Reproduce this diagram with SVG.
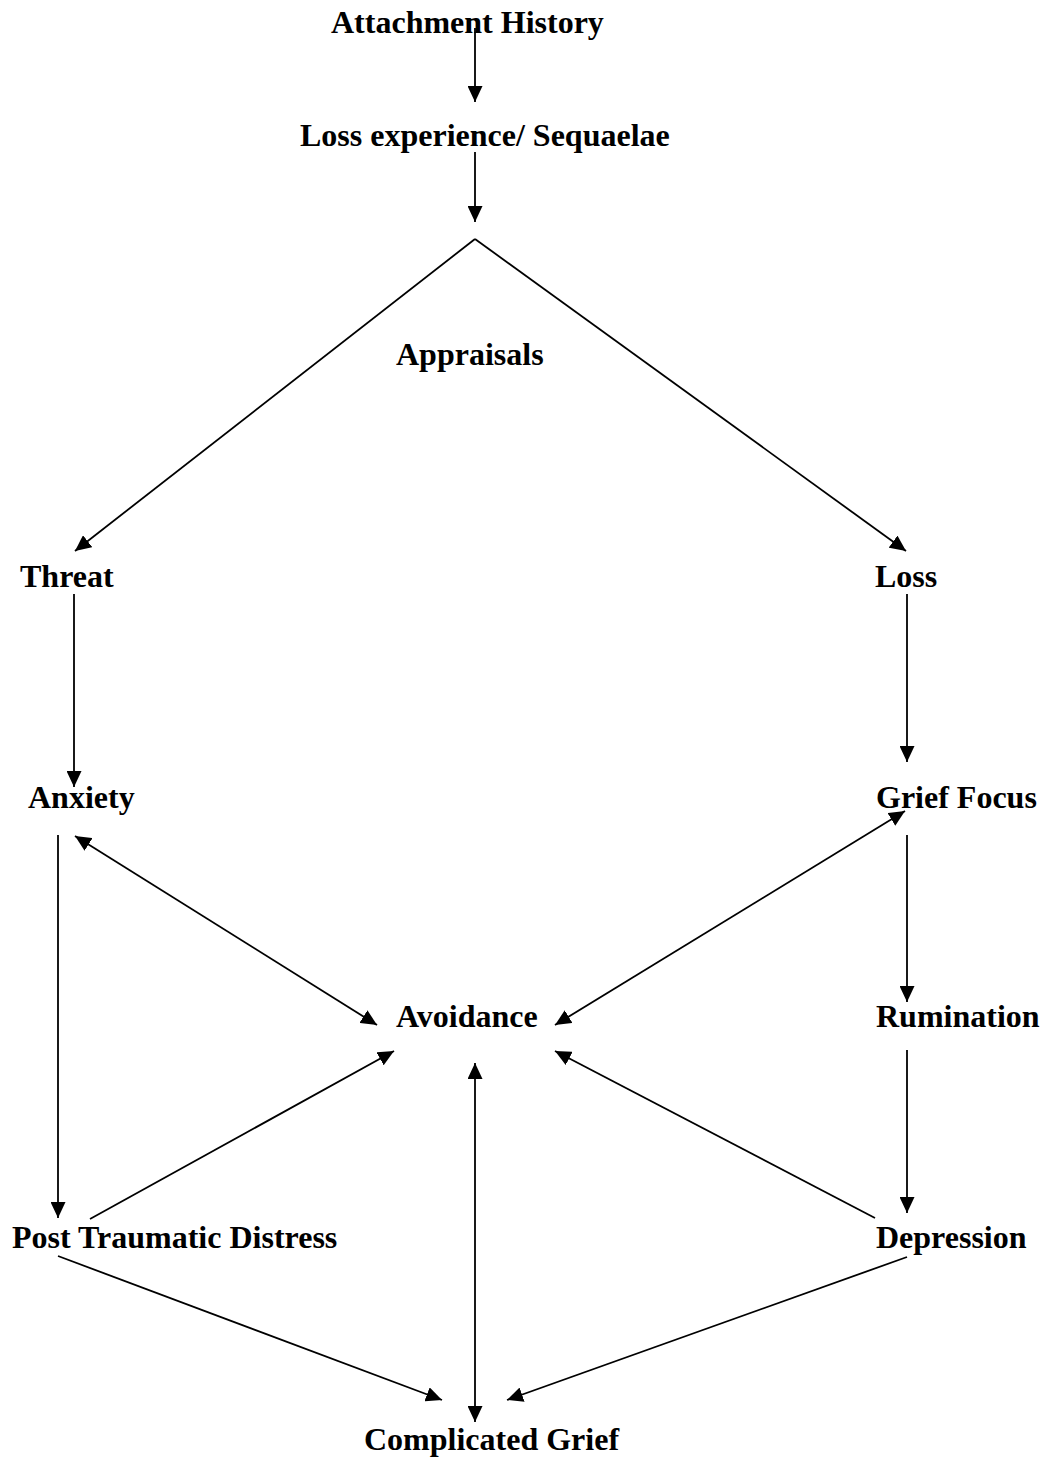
<svg xmlns="http://www.w3.org/2000/svg" width="1043" height="1459" viewBox="0 0 1043 1459">
<style>
text{font-family:"Liberation Serif","Times New Roman",serif;font-weight:bold;font-size:32px;fill:#000}
.c line{stroke:#000;stroke-width:1.8;fill:none}
</style>
<defs>
<marker id="ah" viewBox="0 0 16 15" refX="16" refY="7.5" markerWidth="16" markerHeight="15" markerUnits="userSpaceOnUse" orient="auto-start-reverse">
<path d="M0,0 L16,7.5 L0,15 z" fill="#000"/>
</marker>
</defs>
<rect width="1043" height="1459" fill="#fff"/>
<g class="c" id="connectors">
<line x1="475" y1="28" x2="475" y2="102" marker-end="url(#ah)"/>
<line x1="475" y1="152" x2="475" y2="222" marker-end="url(#ah)"/>
<line x1="475" y1="239" x2="75" y2="551" marker-end="url(#ah)"/>
<line x1="475" y1="239" x2="906" y2="551" marker-end="url(#ah)"/>
<line x1="74" y1="594" x2="74" y2="787" marker-end="url(#ah)"/>
<line x1="907" y1="594" x2="907" y2="762" marker-end="url(#ah)"/>
<line x1="58" y1="835" x2="58" y2="1218" marker-end="url(#ah)"/>
<line x1="75" y1="836" x2="377" y2="1025" marker-start="url(#ah)" marker-end="url(#ah)"/>
<line x1="905" y1="811" x2="555" y2="1025" marker-start="url(#ah)" marker-end="url(#ah)"/>
<line x1="907" y1="835" x2="907" y2="1002" marker-end="url(#ah)"/>
<line x1="907" y1="1050" x2="907" y2="1213" marker-end="url(#ah)"/>
<line x1="90" y1="1219" x2="394" y2="1051" marker-end="url(#ah)"/>
<line x1="875" y1="1218" x2="555" y2="1051" marker-end="url(#ah)"/>
<line x1="475" y1="1063" x2="475" y2="1422" marker-start="url(#ah)" marker-end="url(#ah)"/>
<line x1="58" y1="1256" x2="442" y2="1400" marker-end="url(#ah)"/>
<line x1="907" y1="1257" x2="507" y2="1400" marker-end="url(#ah)"/>
</g>
<g id="n-attachment"><text x="331" y="33">Attachment History</text></g>
<g id="n-loss-exp"><text x="300" y="146">Loss experience/ Sequaelae</text></g>
<g id="n-appraisals"><text x="396" y="365">Appraisals</text></g>
<g id="n-threat"><text x="20" y="587">Threat</text></g>
<g id="n-loss"><text x="875" y="587">Loss</text></g>
<g id="n-anxiety"><text x="28" y="808">Anxiety</text></g>
<g id="n-grief-focus"><text x="876" y="808">Grief Focus</text></g>
<g id="n-avoidance"><text x="396" y="1027">Avoidance</text></g>
<g id="n-rumination"><text x="876" y="1027">Rumination</text></g>
<g id="n-ptd"><text x="12" y="1248">Post Traumatic Distress</text></g>
<g id="n-depression"><text x="876" y="1248">Depression</text></g>
<g id="n-complicated"><text x="364" y="1450">Complicated Grief</text></g>
</svg>
